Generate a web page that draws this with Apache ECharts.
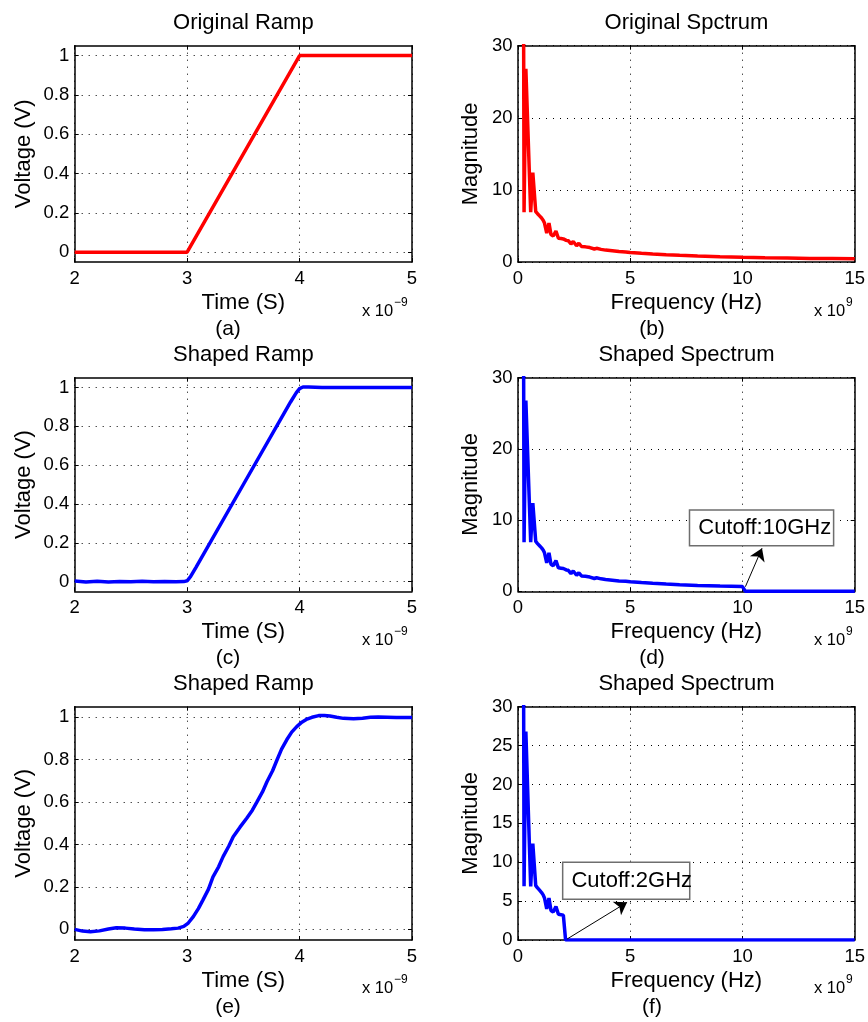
<!DOCTYPE html>
<html><head><meta charset="utf-8">
<script src="https://cdn.jsdelivr.net/npm/echarts@6/dist/echarts.min.js"></script>
<style>html,body{margin:0;padding:0;background:#fff}#c{width:868px;height:1022px}</style>
</head><body><div id="c"></div>
<script>
const FONT = '"Liberation Sans", Arial, Helvetica, sans-serif';

// ---------------- data ----------------
const timeTicks = [2, 3, 4, 5];
const voltTicks = [0, 0.2, 0.4, 0.6, 0.8, 1];
const freqTicks = [0, 5, 10, 15];

// (a) original ramp (time in ns, voltage in V)
const tOrig = [2, 3, 4, 5];
const vOrig = [0, 0, 1, 1];

// (c) shaped ramp, 10 GHz cutoff
const tShaped10 = [2.0, 2.1, 2.2, 2.3, 2.4, 2.5, 2.6, 2.7, 2.8, 2.9, 2.97, 3.0, 3.03, 3.08, 3.5, 3.92, 3.97, 4.0, 4.03, 4.08, 4.2, 4.4, 4.6, 4.8, 5.0];
const vShaped10 = [0.003, -0.002, 0.002, -0.002, 0.001, -0.001, 0.002, -0.001, 0.001, -0.001, 0.0, 0.004, 0.025, 0.075, 0.5, 0.925, 0.972, 0.994, 1.002, 1.002, 0.999, 1.0, 1.0, 1.0, 1.0];

// (e) shaped ramp, 2 GHz cutoff
const tShaped2 = [2.0, 2.07, 2.14, 2.22, 2.30, 2.37, 2.45, 2.53, 2.62, 2.70, 2.78, 2.86, 2.92, 2.97, 3.01, 3.055, 3.10, 3.14, 3.19, 3.23, 3.28, 3.32, 3.37, 3.41, 3.47, 3.53, 3.58, 3.62, 3.67, 3.71, 3.76, 3.80, 3.84, 3.886, 3.93, 3.975, 4.02, 4.06, 4.11, 4.17, 4.22, 4.27, 4.33, 4.39, 4.48, 4.56, 4.63, 4.70, 4.78, 4.86, 4.93, 5.0];
const vShaped2 = [0.0, -0.008, -0.011, -0.007, 0.002, 0.008, 0.006, 0.002, -0.002, -0.002, 0.0, 0.003, 0.006, 0.014, 0.03, 0.06, 0.098, 0.138, 0.19, 0.248, 0.295, 0.343, 0.392, 0.437, 0.482, 0.524, 0.562, 0.60, 0.648, 0.696, 0.748, 0.80, 0.85, 0.894, 0.93, 0.956, 0.977, 0.99, 1.0, 1.008, 1.009, 1.006, 1.0, 0.995, 0.993, 0.996, 1.0, 1.001, 1.0, 0.999, 0.999, 0.999];

// (b) original spectrum (frequency in GHz)
const fOrig = [0.24, 0.27, 0.35, 0.43, 0.565, 0.66, 0.70, 0.79, 0.87, 0.96, 1.05, 1.12, 1.18, 1.28, 1.38, 1.47, 1.57, 1.69, 1.80, 1.92, 2.02, 2.15, 2.24, 2.36, 2.46, 2.61, 2.71, 2.83, 3.0, 3.2, 3.4, 3.5, 3.7, 3.9, 4.2, 4.5, 4.8, 5.0, 5.5, 6.0, 6.6, 7.2, 8.0, 9.0, 10.0, 11.0, 12.0, 13.0, 14.0, 15.0];
const mOrig = [45, 6.9, 26.8, 26.8, 6.9, 12.4, 12.4, 7.0, 6.7, 6.4, 6.1, 5.8, 5.4, 4.0, 5.4, 3.8, 3.6, 4.3, 3.3, 3.25, 3.2, 3.0, 2.95, 2.5, 2.85, 2.25, 2.6, 2.15, 2.1, 2.0, 1.8, 1.9, 1.75, 1.65, 1.55, 1.45, 1.4, 1.33, 1.22, 1.12, 1.02, 0.93, 0.83, 0.73, 0.66, 0.6, 0.55, 0.5, 0.47, 0.44];

// (d) shaped spectrum, 10 GHz cutoff
const fShaped10 = [0.24, 0.27, 0.35, 0.43, 0.565, 0.66, 0.70, 0.79, 0.87, 0.96, 1.05, 1.12, 1.18, 1.28, 1.38, 1.47, 1.57, 1.69, 1.80, 1.92, 2.02, 2.15, 2.24, 2.36, 2.46, 2.61, 2.71, 2.83, 3.0, 3.2, 3.4, 3.5, 3.7, 3.9, 4.2, 4.5, 4.8, 5.0, 5.5, 6.0, 6.6, 7.2, 8.0, 9.0, 10.0, 10.13, 15.0];
const mShaped10 = [45, 6.9, 26.8, 26.8, 6.9, 12.4, 12.4, 7.0, 6.7, 6.4, 6.1, 5.8, 5.4, 4.0, 5.4, 3.8, 3.6, 4.3, 3.3, 3.25, 3.2, 3.0, 2.95, 2.5, 2.85, 2.25, 2.6, 2.15, 2.1, 2.0, 1.8, 1.9, 1.75, 1.65, 1.55, 1.45, 1.4, 1.33, 1.22, 1.12, 1.02, 0.93, 0.83, 0.73, 0.66, 0, 0];

// (f) shaped spectrum, 2 GHz cutoff
const fShaped2 = [0.24, 0.27, 0.35, 0.43, 0.565, 0.66, 0.70, 0.79, 0.87, 0.96, 1.05, 1.12, 1.18, 1.28, 1.38, 1.47, 1.57, 1.69, 1.80, 1.92, 2.02, 2.12, 15.0];
const mShaped2 = [45, 6.9, 26.8, 26.8, 6.9, 12.4, 12.4, 7.0, 6.7, 6.4, 6.1, 5.8, 5.4, 4.0, 5.4, 3.8, 3.6, 4.3, 3.3, 3.25, 3.2, 0, 0];

// annotations (data units)
const cutoffTextD = 'Cutoff:10GHz';
const cutoffBoxD = [[7.64, 11.42], [14.06, 6.4]];
const cutoffArrowD = [[10.13, 0.65], [10.87, 6.04]];
const cutoffTextF = 'Cutoff:2GHz';
const cutoffBoxF = [[1.99, 10.0], [7.65, 5.24]];
const cutoffArrowF = [[2.19, 0.13], [4.86, 4.85]];

const titles = ['Original Ramp', 'Original Spctrum', 'Shaped Ramp', 'Shaped Spectrum', 'Shaped Ramp', 'Shaped Spectrum'];
const panelLabels = ['(a)', '(b)', '(c)', '(d)', '(e)', '(f)'];

// ---------------- layout ----------------
const COLS = [{left: 74.7, width: 337.3, labelX: 228, expX: 362}, {left: 518, width: 337, labelX: 652, expX: 814}];
const ROWS = [
  {top: 45.7, height: 216.3, titleY: 22.5, labelY: 329, expY: 311},
  {top: 377.7, height: 213.6, titleY: 354.5, labelY: 658, expY: 640},
  {top: 706.7, height: 233.3, titleY: 684, labelY: 1007, expY: 988}
];

const pairs = (xs, ys) => xs.map((x, k) => [x, ys[k]]);

const panels = [
  {row: 0, col: 0, kind: 'time', data: pairs(tOrig, vOrig), color: '#ff0000'},
  {row: 0, col: 1, kind: 'freq', data: pairs(fOrig, mOrig), color: '#ff0000', yInterval: 10},
  {row: 1, col: 0, kind: 'time', data: pairs(tShaped10, vShaped10), color: '#0000ff'},
  {row: 1, col: 1, kind: 'freq', data: pairs(fShaped10, mShaped10), color: '#0000ff', yInterval: 10,
    note: {text: cutoffTextD, box: cutoffBoxD, arrow: cutoffArrowD}},
  {row: 2, col: 0, kind: 'time', data: pairs(tShaped2, vShaped2), color: '#0000ff'},
  {row: 2, col: 1, kind: 'freq', data: pairs(fShaped2, mShaped2), color: '#0000ff', yInterval: 5,
    note: {text: cutoffTextF, box: cutoffBoxF, arrow: cutoffArrowF}}
];

const dotted = {color: '#000', width: 1, type: [1, 6]};
const axisLineStyle = {color: '#000', width: 1.5};
const tickStyle = {show: true, inside: true, length: 4, lineStyle: {color: '#000', width: 1}};
const tickLabel = {color: '#000', fontSize: 18.5, fontFamily: FONT};
const nameStyle = {color: '#000', fontSize: 22, fontFamily: FONT};

const grids = [], xAxes = [], yAxes = [], series = [], graphics = [];

function txt(text, x, y, size, align) {
  return {type: 'text', x: x, y: y, silent: true,
    style: {text: text, fontSize: size, fontFamily: FONT, fill: '#000',
      align: align, textAlign: align, verticalAlign: 'middle', textVerticalAlign: 'middle'}};
}

panels.forEach((p, i) => {
  const c = COLS[p.col], r = ROWS[p.row];
  grids.push({left: c.left, top: r.top, width: c.width, height: r.height, show: false});
  const isTime = p.kind === 'time';
  const xBase = isTime ? {min: timeTicks[0], max: timeTicks[timeTicks.length - 1], interval: 1}
                       : {min: freqTicks[0], max: freqTicks[freqTicks.length - 1], interval: 5};
  xAxes.push(Object.assign({type: 'value', gridIndex: i, position: 'bottom',
    axisLine: {show: true, onZero: false, lineStyle: axisLineStyle},
    axisTick: tickStyle,
    axisLabel: Object.assign({margin: 7}, tickLabel),
    splitLine: {show: true, lineStyle: dotted},
    name: isTime ? 'Time (S)' : 'Frequency (Hz)', nameLocation: 'middle', nameGap: 30, nameTextStyle: nameStyle}, xBase));
  xAxes.push(Object.assign({type: 'value', gridIndex: i, position: 'top',
    axisLine: {show: true, onZero: false, lineStyle: axisLineStyle},
    axisTick: tickStyle, axisLabel: {show: false}, splitLine: {show: false}}, xBase));

  let yBase, yTick, yLab;
  if (isTime) {
    yBase = {min: -0.05, max: 1.05};
    yTick = Object.assign({customValues: voltTicks}, tickStyle);
    yLab = Object.assign({margin: 5.5, customValues: voltTicks}, tickLabel);
  } else {
    yBase = {min: 0, max: 30, interval: p.yInterval};
    yTick = tickStyle;
    yLab = Object.assign({margin: 5.5}, tickLabel);
  }
  yAxes.push(Object.assign({type: 'value', gridIndex: i, position: 'left',
    axisLine: {show: true, onZero: false, lineStyle: axisLineStyle},
    axisTick: yTick, axisLabel: yLab,
    splitLine: {show: true, lineStyle: dotted},
    name: isTime ? 'Voltage (V)' : 'Magnitude', nameLocation: 'middle', nameGap: isTime ? 40 : 36, nameTextStyle: nameStyle}, yBase));
  yAxes.push(Object.assign({type: 'value', gridIndex: i, position: 'right',
    axisLine: {show: true, onZero: false, lineStyle: axisLineStyle},
    axisTick: yTick, axisLabel: {show: false}, splitLine: {show: false}}, yBase));

  const s = {type: 'line', xAxisIndex: 2 * i, yAxisIndex: 2 * i, data: p.data,
    showSymbol: false, symbol: 'none', clip: true, silent: true, animation: false,
    lineStyle: {width: 3.5, color: p.color}, itemStyle: {color: p.color}, emphasis: {disabled: true}};
  if (p.note) {
    s.markArea = {silent: true, animation: false,
      itemStyle: {color: '#ffffff', borderColor: '#6e6e6e', borderWidth: 1.5, opacity: 1},
      label: {show: true, position: 'insideLeft', distance: 9.5, color: '#000', fontSize: 22, fontFamily: FONT},
      emphasis: {disabled: true},
      data: [[{name: p.note.text, coord: p.note.box[0]}, {coord: p.note.box[1]}]]};
    s.markLine = {silent: true, animation: false, symbol: ['none', 'arrow'], symbolSize: 12,
      lineStyle: {color: '#000', width: 1, type: 'solid'}, itemStyle: {color: '#000'},
      label: {show: false}, emphasis: {disabled: true},
      data: [[{coord: p.note.arrow[0]}, {coord: p.note.arrow[1]}]]};
  }
  series.push(s);

  const cx = c.left + c.width / 2;
  graphics.push(txt(titles[i], cx, r.titleY, 22, 'center'));
  graphics.push(txt(panelLabels[i], c.labelX, r.labelY, 21, 'center'));
  graphics.push(txt('x 10', c.expX, r.expY, 16.5, 'left'));
  graphics.push(txt(isTime ? '\u22129' : '9', c.expX + 32, r.expY - 8, 12, 'left'));
});

const chart = echarts.init(document.getElementById('c'), null, {renderer: 'canvas', width: 868, height: 1022});
chart.setOption({
  backgroundColor: '#ffffff',
  animation: false,
  grid: grids,
  xAxis: xAxes,
  yAxis: yAxes,
  series: series,
  graphic: graphics
});
</script>
</body></html>
